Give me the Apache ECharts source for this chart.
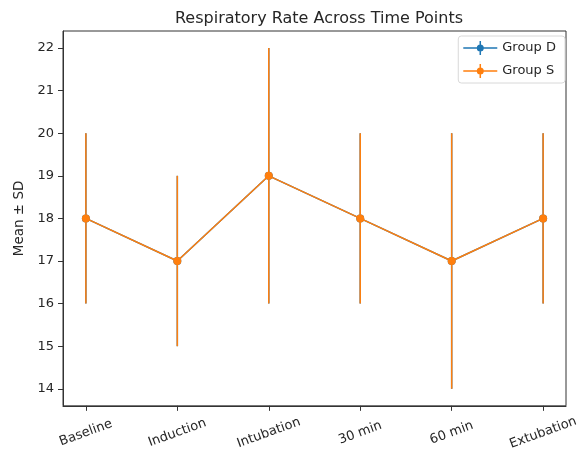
<!DOCTYPE html>
<html>
<head>
<meta charset="utf-8">
<script src="https://cdn.jsdelivr.net/npm/echarts@6/dist/echarts.min.js"></script>
<style>html,body{margin:0;padding:0;background:#fff}#c{width:587px;height:452px}</style>
</head>
<body>
<div id="c"></div>
<script>
const categories = ['Baseline', 'Induction', 'Intubation', '30 min', '60 min', 'Extubation'];
const groupDMean = [18, 17, 19, 18, 17, 18];
const groupDSD = [2, 2, 3, 2, 3, 2];
const groupSMean = [18, 17, 19, 18, 17, 18];
const groupSSD = [2, 2, 3, 2, 3, 2];
const yTicks = [14, 15, 16, 17, 18, 19, 20, 21, 22];

const BLUE = '#1f77b4', ORANGE = '#ff7f0e';
const FONT = 'DejaVu Sans';
const TXT = '#262626';
const icon = 'path://M0,6.25H34V7.75H0Z M16.25,0H17.75V14H16.25Z M13.5,7A3.5,3.5 0 1,1 20.5,7A3.5,3.5 0 1,1 13.5,7Z';

function errData(mean, sd) {
  return mean.map((m, i) => [i, m - sd[i], m + sd[i]]);
}
function errSeries(name, mean, sd, color, z) {
  return {
    type: 'custom', name: name, z: z, silent: true,
    data: errData(mean, sd),
    renderItem: function (params, api) {
      const x = api.value(0);
      const p1 = api.coord([x, api.value(1)]);
      const p2 = api.coord([x, api.value(2)]);
      return { type: 'line', shape: { x1: p1[0], y1: p1[1], x2: p2[0], y2: p2[1] },
        style: { stroke: color, lineWidth: 1.5 } };
    }
  };
}
function lineSeries(name, mean, color, z) {
  return {
    type: 'line', name: name, z: z,
    data: mean.map((m, i) => [i, m]),
    symbol: 'circle', symbolSize: 8,
    itemStyle: { color: color },
    lineStyle: { color: color, width: 1.5 },
    animation: false
  };
}

const chart = echarts.init(document.getElementById('c'));
chart.setOption({
  animation: false,
  title: {
    text: 'Respiratory Rate Across Time Points',
    left: 314, top: 6, textAlign: 'center',
    textStyle: { fontFamily: FONT, fontSize: 16, fontWeight: 'normal', color: TXT }
  },
  legend: {
    orient: 'vertical', right: 22, top: 36,
    data: [{ name: 'Group D', icon: icon }, { name: 'Group S', icon: icon }],
    itemWidth: 34, itemHeight: 14, itemGap: 9,
    padding: [5, 9, 5, 5],
    borderColor: '#d8d8d8', borderWidth: 1, borderRadius: 3,
    backgroundColor: 'rgba(255,255,255,0.8)',
    textStyle: { fontFamily: FONT, fontSize: 13, color: TXT }
  },
  grid: { left: 63, right: 21, top: 31, bottom: 46, show: true, borderColor: '#333', borderWidth: 1, containLabel: false },
  xAxis: {
    type: 'value', min: -0.25, max: 5.25,
    axisLine: { show: true, onZero: false, lineStyle: { color: '#333' } },
    axisTick: { show: true, length: 5, customValues: categories.map((c, i) => i), lineStyle: { color: '#333' } },
    axisLabel: {
      customValues: categories.map((c, i) => i),
      formatter: v => categories[Math.round(v)],
      rotate: 20, align: 'center', verticalAlign: 'middle', margin: 27,
      fontFamily: FONT, fontSize: 13, color: TXT
    },
    splitLine: { show: false }
  },
  yAxis: {
    type: 'value', min: 13.6, max: 22.4,
    name: 'Mean ± SD', nameLocation: 'middle', nameGap: 35,
    nameTextStyle: { fontFamily: FONT, fontSize: 13.5, color: TXT },
    axisLine: { show: true, onZero: false, lineStyle: { color: '#333' } },
    axisTick: { show: true, length: 5, customValues: yTicks, lineStyle: { color: '#333' } },
    axisLabel: { customValues: yTicks, margin: 9, fontFamily: FONT, fontSize: 13, color: TXT },
    splitLine: { show: false }
  },
  series: [
    errSeries('Group D err', groupDMean, groupDSD, BLUE, 2),
    lineSeries('Group D', groupDMean, BLUE, 3),
    errSeries('Group S err', groupSMean, groupSSD, ORANGE, 4),
    lineSeries('Group S', groupSMean, ORANGE, 5)
  ]
});
</script>
</body>
</html>
